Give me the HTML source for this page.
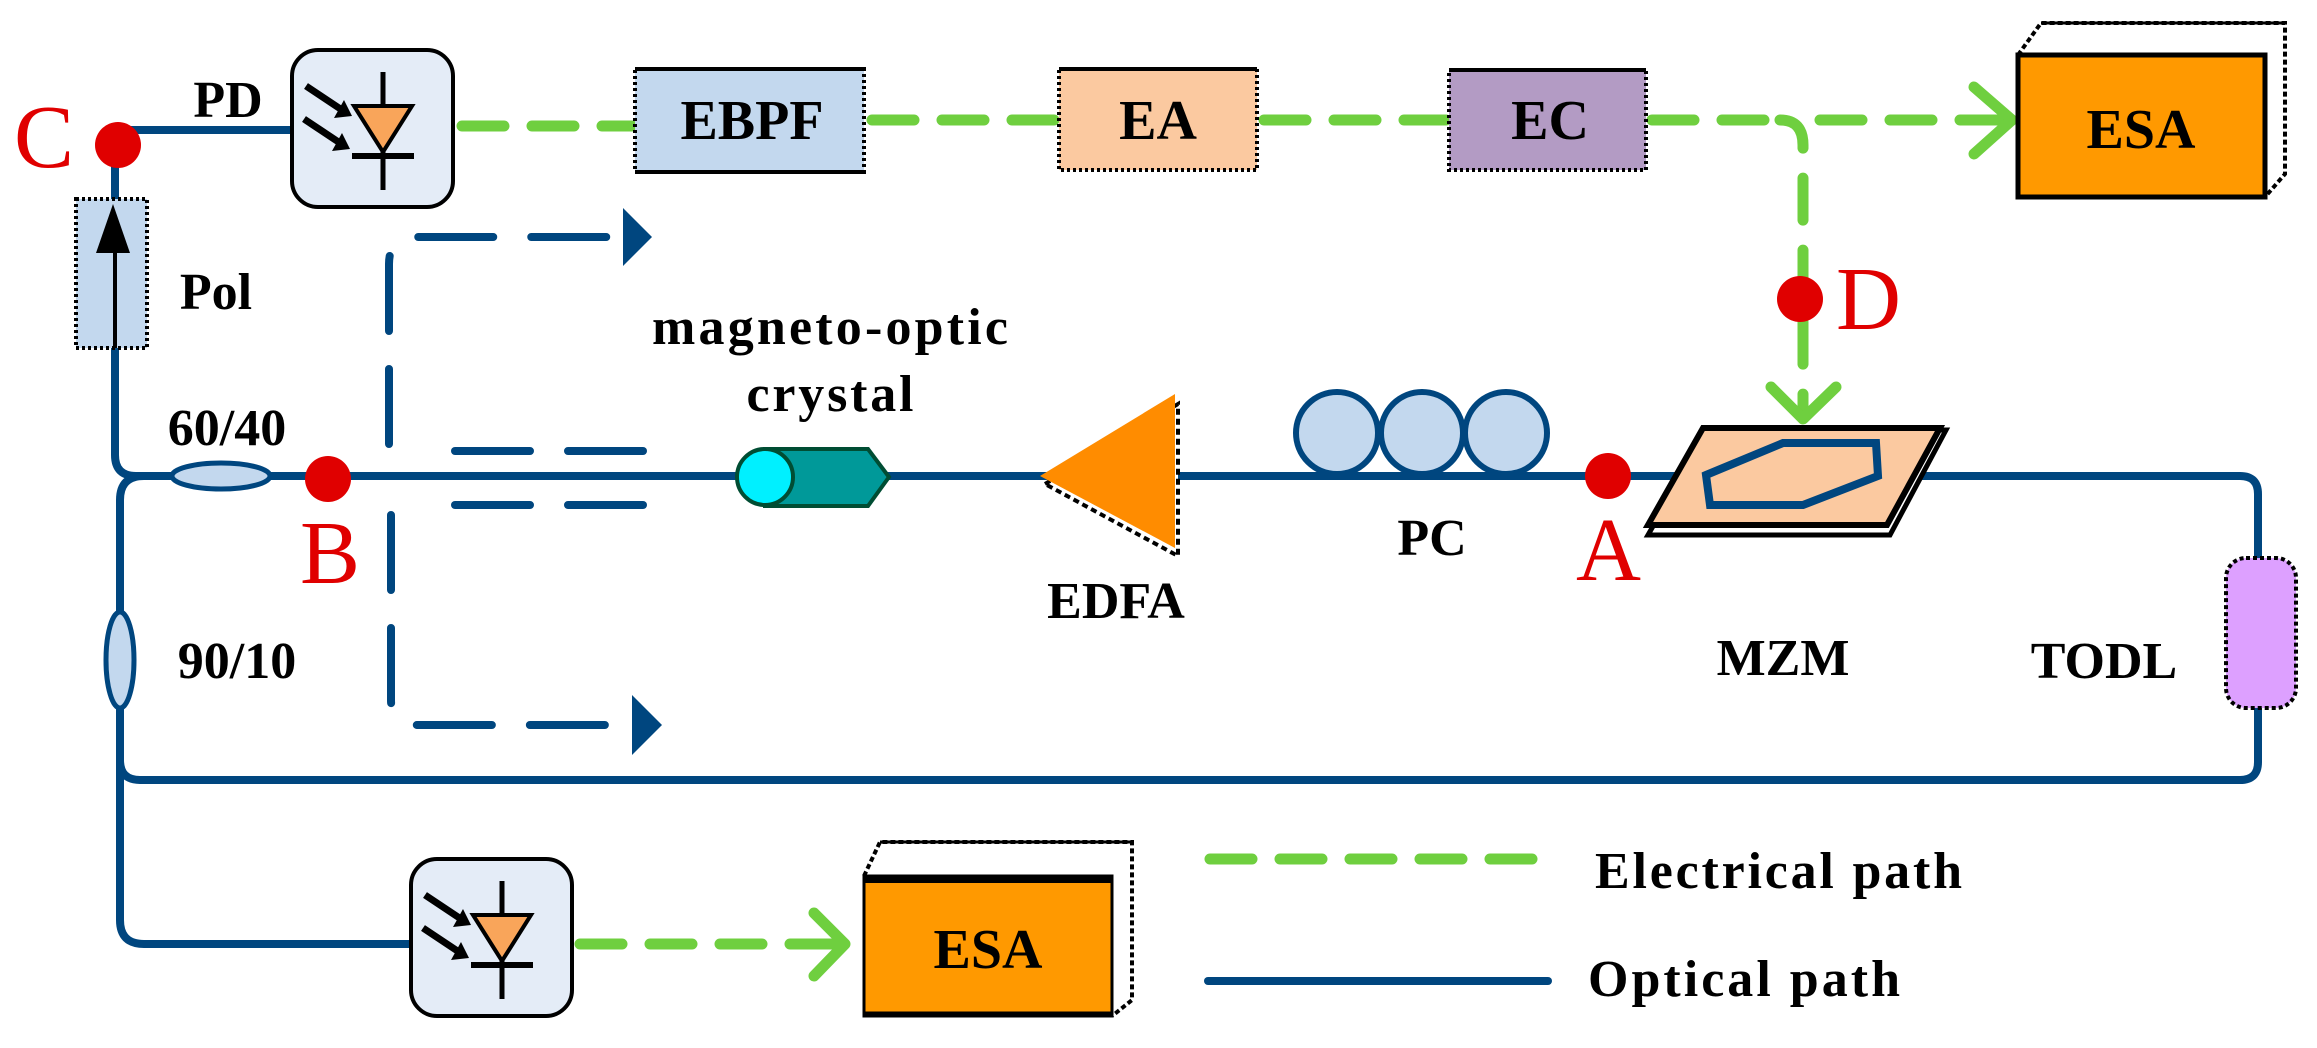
<!DOCTYPE html>
<html><head><style>html,body{margin:0;padding:0;background:#fff;width:2317px;height:1048px;overflow:hidden}</style></head>
<body>
<svg width="2317" height="1048" viewBox="0 0 2317 1048" xmlns="http://www.w3.org/2000/svg" font-family="Liberation Serif, serif">
<defs>
<g id="pd">
 <rect x="0" y="0" width="161" height="157" rx="26" fill="#e4ecf7" stroke="#000" stroke-width="4"/>
 <line x1="91" y1="22" x2="91" y2="140" stroke="#000" stroke-width="5"/>
 <polygon points="62,56 120,56 91,102" fill="#f9a55a" stroke="#000" stroke-width="4"/>
 <line x1="60" y1="106" x2="122" y2="106" stroke="#000" stroke-width="6"/>
 <line x1="14" y1="36" x2="50" y2="60" stroke="#000" stroke-width="7"/>
 <polygon points="42,68 60,66 52,50" fill="#000"/>
 <line x1="12" y1="69" x2="48" y2="93" stroke="#000" stroke-width="7"/>
 <polygon points="40,101 58,99 50,83" fill="#000"/>
</g>
</defs>
<!-- optical lines -->
<g fill="none" stroke="#00467f" stroke-width="8">
 <path d="M118,130 H292"/>
 <path d="M115,145 V455 Q115,476 136,476 H2240 Q2258,476 2258,494 V762 Q2258,780 2240,780 H140 Q120,780 120,760 V500 Q120,476 144,476"/>
 <path d="M120,760 V920 Q120,944 144,944 H411"/>
 <path d="M1208,981 H1548" stroke-linecap="round"/>
</g>
<!-- blue dashed brackets -->
<g fill="none" stroke="#00467f" stroke-width="8" stroke-dasharray="75,38" stroke-linecap="round">
 <path d="M389,444 V264 Q389,237 416,237 H625"/>
 <path d="M455,451 H650"/>
 <path d="M455,505 H650"/>
 <path d="M391,515 V700 Q391,725 418,725 H635"/>
</g>
<polygon points="623,208 652,237 623,266" fill="#00467f"/>
<polygon points="632,695 662,725 632,755" fill="#00467f"/>
<!-- green dashed -->
<g fill="none" stroke="#6fcf3f" stroke-width="11" stroke-dasharray="42,28" stroke-linecap="round">
 <path d="M462,126 H632"/>
 <path d="M872,120 H1056"/>
 <path d="M1264,120 H1446"/>
 <path d="M1652,120 H1780"/>
 <path d="M1820,120 H2010"/>
 <path d="M580,944 H842"/>
 <path d="M1210,859 H1536"/>
</g>
<path d="M1780,120 Q1803,120 1803,145 V410" fill="none" stroke="#6fcf3f" stroke-width="11" stroke-dasharray="42,30" stroke-linecap="round"/>
<polyline points="1974,87 2012,120 1974,154" fill="none" stroke="#6fcf3f" stroke-width="11" stroke-linecap="round" stroke-linejoin="round"/>
<polyline points="1771,387 1803,419 1836,387" fill="none" stroke="#6fcf3f" stroke-width="11" stroke-linecap="round" stroke-linejoin="round"/>
<polyline points="814,913 845,944 814,976" fill="none" stroke="#6fcf3f" stroke-width="11" stroke-linecap="round" stroke-linejoin="round"/>
<!-- PD boxes -->
<use href="#pd" x="292" y="50"/>
<use href="#pd" x="411" y="859"/>
<!-- boxes -->
<g stroke="#000" stroke-width="4" stroke-dasharray="3,3">
<rect x="635" y="69" width="229" height="103" fill="#c3d8ee"/>
<rect x="1059" y="69" width="198" height="101" fill="#fbc9a0"/>
<rect x="1449" y="70" width="197" height="100" fill="#b39bc4"/>
</g>
<g stroke="#000" stroke-width="4"><line x1="635" y1="69" x2="864" y2="69"/><line x1="635" y1="172" x2="864" y2="172"/>
<line x1="1059" y1="69" x2="1257" y2="69"/><line x1="1449" y1="70" x2="1646" y2="70"/></g>
<g font-weight="bold" font-size="56" text-anchor="middle">
<text x="752" y="139">EBPF</text><text x="1158" y="139">EA</text><text x="1550" y="139">EC</text>
</g>
<!-- ESA top -->
<path d="M2018,55 L2041,23 H2285 V174 L2265,197" fill="#fff" stroke="#000" stroke-width="4" stroke-dasharray="5,3"/>
<line x1="2041" y1="23" x2="2285" y2="23" stroke="#000" stroke-width="3"/>
<rect x="2018" y="55" width="247" height="142" fill="#ff9900" stroke="#000" stroke-width="5"/>
<text x="2141" y="148" font-weight="bold" font-size="56" text-anchor="middle">ESA</text>
<!-- ESA bottom -->
<path d="M864,876 L880,842 H1132 V1000 L1112,1016" fill="#fff" stroke="#000" stroke-width="4" stroke-dasharray="5,3"/>
<line x1="880" y1="842" x2="1132" y2="842" stroke="#000" stroke-width="3"/>
<rect x="864" y="876" width="248" height="140" fill="#ff9900" stroke="#000" stroke-width="3"/>
<line x1="864" y1="880" x2="1112" y2="880" stroke="#000" stroke-width="6"/>
<line x1="864" y1="1014" x2="1112" y2="1014" stroke="#000" stroke-width="5"/>
<text x="988" y="968" font-weight="bold" font-size="56" text-anchor="middle">ESA</text>
<!-- Pol -->
<rect x="76" y="199" width="71" height="149" fill="#c3d8ee" stroke="#000" stroke-width="4" stroke-dasharray="3,3"/>
<line x1="115" y1="348" x2="115" y2="240" stroke="#000" stroke-width="4"/>
<polygon points="96,253 130,253 113,204" fill="#000"/>
<!-- couplers -->
<ellipse cx="221" cy="476" rx="49" ry="13" fill="#c3d8ee" stroke="#00467f" stroke-width="5"/>
<ellipse cx="120" cy="660" rx="14" ry="48" fill="#c3d8ee" stroke="#00467f" stroke-width="5"/>
<!-- crystal -->
<path d="M765,449 H868 L889,477 L868,506 H765 Z" fill="#009999" stroke="#004d33" stroke-width="4"/>
<ellipse cx="765" cy="477" rx="28" ry="28" fill="#00f0ff" stroke="#004d33" stroke-width="4"/>
<!-- EDFA -->
<polygon points="1045,484 1178,404 1178,556" fill="#fff" stroke="#000" stroke-width="4" stroke-dasharray="6,4"/>
<polygon points="1040,476 1175,394 1175,548" fill="#ff8c00"/>
<!-- PC -->
<g fill="#c3d8ee" stroke="#00467f" stroke-width="6">
<circle cx="1337" cy="433" r="41"/><circle cx="1422" cy="433" r="41"/><circle cx="1506" cy="433" r="41"/>
</g>
<!-- MZM -->
<polygon points="1648,535 1890,535 1946,430 1708,430" fill="#fff" stroke="#000" stroke-width="5"/>
<polygon points="1703,428 1940,428 1887,525 1648,525" fill="#fbc9a0" stroke="#000" stroke-width="6"/>
<polygon points="1706,475 1783,443 1876,443 1878,476 1803,505 1710,505" fill="none" stroke="#00467f" stroke-width="8"/>
<!-- TODL -->
<rect x="2226" y="558" width="70" height="150" rx="20" fill="#dda0ff" stroke="#000" stroke-width="4" stroke-dasharray="4,3"/>
<!-- red dots -->
<g fill="#e00000">
<circle cx="118" cy="145" r="23"/><circle cx="328" cy="479" r="23"/>
<circle cx="1608" cy="476" r="23"/><circle cx="1800" cy="299" r="23"/>
</g>
<g fill="#e00000" font-size="90">
<text x="14" y="167">C</text><text x="300" y="583">B</text><text x="1576" y="580">A</text><text x="1836" y="329">D</text>
</g>
<g font-weight="bold" font-size="52" text-anchor="middle">
<text x="228" y="117">PD</text><text x="216" y="309">Pol</text><text x="227" y="445">60/40</text>
<text x="830" y="344" textLength="356">magneto-optic</text><text x="830" y="411" textLength="167">crystal</text>
<text x="1116" y="618">EDFA</text><text x="1432" y="555">PC</text><text x="1783" y="675">MZM</text>
<text x="2104" y="678">TODL</text><text x="237" y="678">90/10</text>
</g>
<g font-weight="bold" font-size="52">
<text x="1595" y="888" textLength="367">Electrical path</text><text x="1588" y="996" textLength="312">Optical path</text>
</g>
</svg>
</body></html>
